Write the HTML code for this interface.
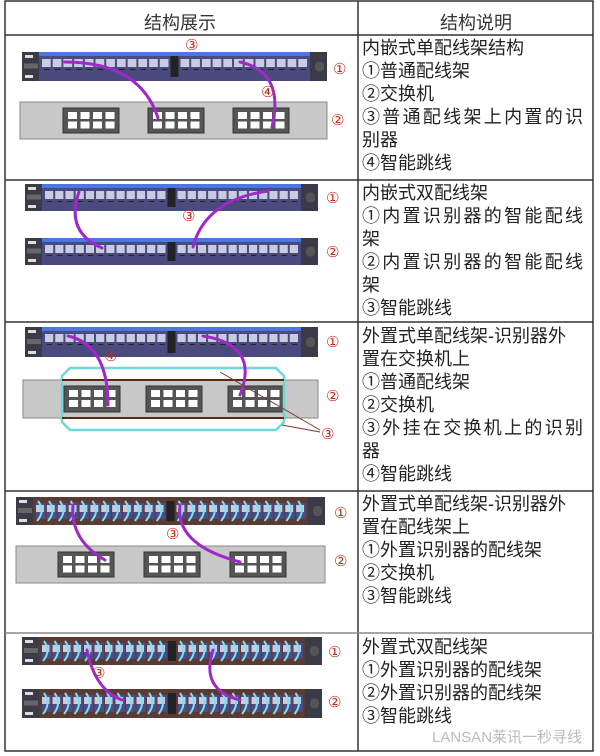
<!DOCTYPE html>
<html><head><meta charset="utf-8">
<style>
html,body{margin:0;padding:0;background:#fff;}
#wrap{position:relative;width:600px;height:756px;overflow:hidden;font-family:"Liberation Sans","Noto Sans CJK SC",sans-serif;}
.t{position:absolute;left:362px;font-size:18px;line-height:23px;color:#222;white-space:nowrap;}
.w{letter-spacing:2.3px;}
.h{position:absolute;top:9px;font-size:18px;color:#333;}
svg{position:absolute;left:0;top:0;}
</style></head><body>
<div id="wrap">
<svg id="s" width="600" height="756" xmlns="http://www.w3.org/2000/svg">
<g stroke="#333" stroke-width="1.5" fill="none">
<rect x="5" y="1" width="588" height="750"/>
<line x1="358" y1="1" x2="358" y2="751"/>
<line x1="5" y1="35" x2="593" y2="35"/>
<line x1="5" y1="180" x2="593" y2="180"/>
<line x1="5" y1="322" x2="593" y2="322"/>
<line x1="5" y1="491" x2="593" y2="491"/>
<line x1="5" y1="633" x2="593" y2="633" stroke="#888"/>
</g>
<g id="g"></g>
</svg>
<div class="h" style="left:144px">结构展示</div>
<div class="h" style="left:440px">结构说明</div>
<div class="t" style="top:37px">内嵌式单配线架结构<br>①普通配线架<br>②交换机<br><span class="w">③普通配线架上内置的识</span><br>别器<br>④智能跳线</div>
<div class="t" style="top:182px">内嵌式双配线架<br><span class="w">①内置识别器的智能配线</span><br>架<br><span class="w">②内置识别器的智能配线</span><br>架<br>③智能跳线</div>
<div class="t" style="top:325px">外置式单配线架-识别器外<br>置在交换机上<br>①普通配线架<br>②交换机<br><span class="w">③外挂在交换机上的识别</span><br>器<br>④智能跳线</div>
<div class="t" style="top:493px">外置式单配线架-识别器外<br>置在配线架上<br>①外置识别器的配线架<br>②交换机<br>③智能跳线</div>
<div class="t" style="top:636px">外置式双配线架<br>①外置识别器的配线架<br>②外置识别器的配线架<br>③智能跳线</div>
<div style="position:absolute;left:432px;top:726px;font-size:15px;color:#bbb;">LANSAN莱讯一秒寻线</div>
</div>
<script>
var g=document.getElementById('g'),h='';
function R(x,y,w,h2,f,extra){h+='<rect x="'+x+'" y="'+y+'" width="'+w+'" height="'+h2+'" fill="'+f+'" '+(extra||'')+'/>';}
function T(x,y,s){h+='<text x="'+x+'" y="'+y+'" font-size="15" fill="#c03020" font-family="DejaVu Sans,sans-serif">'+s+'</text>';}
function panel(x,y,w,hh,hatch){
  R(x,y,w,hh,hatch?'#5a3a32':'#4a4a7e');
  R(x,y,17,hh,'#3a3a48');R(x+3,y+3,8,3,'#ddd');R(x+3,y+hh-6,8,3,'#ddd');R(x+2,y+hh/2-3,14,5,'#666');
  R(x+w-17,y,17,hh,'#3a3a48');R(x+w-12,y+hh/2-5,9,10,'#555','rx="4"');
  if(!hatch) R(x+17,y,w-34,4,'#4a78e0');
  var sx=x+19,span=(w-38-10)/2,n=12,pw=span/n;
  for(var side=0;side<2;side++){
    var bx=sx+side*(span+10);
    for(var i=0;i<n;i++){
      var px=bx+i*pw+1;
      if(hatch){R(px,y+6,pw-1,hh-12,'#4c4c84');R(px,y+8,pw-3,7,'#c8cce0');
        h+='<path d="M'+(px+2)+' '+(y+4)+' Q'+(px+pw-1)+' '+(y+hh/2)+' '+(px+1)+' '+(y+hh-4)+'" stroke="#7ee0ee" stroke-width="2" fill="none"/>';}
      else{R(px,y+7,pw-2,8,'#c8cce0');R(px+2,y+17,pw-5,1,'#222');}
    }
  }
  R(sx+span+1,y+4,8,hh-8,'#222');
}
function sw(x,y,w,hh,mods){
  R(x,y,w,hh,'#c8c8c8','stroke="#888"');
  mods.forEach(function(m){R(m,y+6,56,hh-12,'#555','stroke="#333"');
    for(var r=0;r<2;r++)for(var c=0;c<4;c++)R(m+5+c*12.5,y+10+r*((hh-22)/2+2),9,7,'#fff');});
}
function cable(d){h+='<path d="'+d+'" stroke="#a028c8" stroke-width="3" fill="none" stroke-linecap="round"/>';}
panel(22,52,305,29,false);sw(20,102,307,37,[63,148,233]);
cable('M65 62 Q140 62 158 118');cable('M240 62 Q285 72 272 127');
T(185,50,'③');T(333,74,'①');T(261,97,'④');T(331,125,'②');
panel(25,184,293,27,false);panel(25,238,293,27,false);
cable('M79 192 Q65 232 102 248');cable('M268 191 Q205 200 193 247');
T(182,221,'③');T(326,203,'①');T(326,257,'②');
panel(25,327,293,30,false);sw(23,380,295,38,[64,146,228]);
h+='<path d="M70 368 L276 368 L284 376 L284 422 L276 430 L70 430 L62 422 L62 376 Z" stroke="#70d8dc" stroke-width="2.5" fill="none"/>';
R(62,379,222,2,'#5a2a10');R(62,417,222,2,'#5a2a10');
cable('M68 336 Q108 345 108 405');cable('M203 336 Q260 345 240 395');
h+='<line x1="220" y1="372" x2="320" y2="430" stroke="#7a3a30"/><line x1="282" y1="425" x2="320" y2="432" stroke="#7a3a30"/>';
T(104,361,'④');T(326,347,'①');T(326,401,'②');T(321,439,'③');
panel(16,497,309,28,true);sw(16,546,309,37,[58,144,230]);
cable('M73 505 Q70 540 105 560');cable('M180 505 Q175 545 240 562');
T(166,539,'③');T(334,518,'①');T(334,566,'②');
panel(22,637,300,28,true);panel(22,689,300,29,true);
cable('M87 650 Q95 690 122 700');cable('M213 650 Q200 690 240 700');
T(92,678,'③');T(328,657,'①');T(328,707,'②');
g.innerHTML=h;
</script>
</body></html>
